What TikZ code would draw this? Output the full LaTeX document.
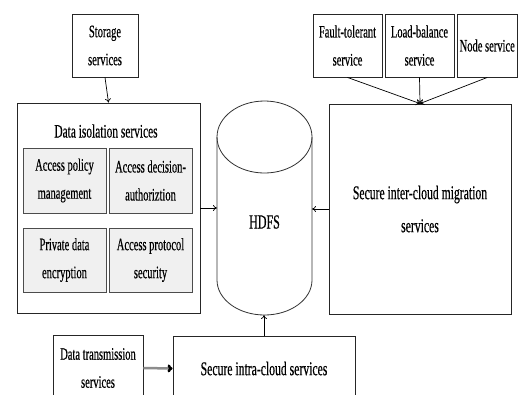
\documentclass[tikz,border=0pt]{standalone}
\usepackage{fontspec}
\setmainfont{Liberation Serif}[FakeStretch=0.6,FakeBold=0.4]
\usetikzlibrary{arrows.meta,shadows}
\begin{document}
\begin{tikzpicture}[x=1pt,y=-1pt,
  box/.style={draw=black!85, line width=0.9pt, fill=white, align=center, inner sep=0pt,
    drop shadow={shadow xshift=0.9pt, shadow yshift=-0.9pt, opacity=1, fill=black!75}},
  subbox/.style={box, draw=black!70, fill=black!6, minimum width=83, minimum height=65},
  txt/.style={font=\fontsize{17.5}{28}\selectfont},
  bigtxt/.style={font=\fontsize{19.5}{33}\selectfont},
  arr/.style={-{To[length=4pt,width=6pt]}, line width=0.7pt},
]
\useasboundingbox (0,0) rectangle (518,394);
\fill[white] (0,0) rectangle (518,394);
\clip (0,0) rectangle (518,394);

% top-left feeder
\node[box, txt, minimum width=66, minimum height=63] (stor) at (105,45.5) {Storage\\services};

% data isolation group
\node[box, minimum width=183, minimum height=210] (iso) at (108.5,208) {};
\node[font=\fontsize{19}{22}\selectfont] (isotitle) at (106,131) {Data isolation services};
\node[subbox, txt] (apm) at (64.5,180.5) {Access policy\\management};
\node[subbox, txt] (ada) at (150.5,180.5) {Access decision-\\authoriztion};
\node[subbox, txt, minimum height=64] (pde) at (64.5,260) {Private data\\encryption};
\node[subbox, txt, minimum height=64] (aps) at (150.5,260) {Access protocol\\security};

% HDFS store
\draw[line width=0.8pt, black!80] (264.5,137) ellipse [x radius=47.5, y radius=36];
\draw[line width=0.8pt, black!80] (217,137) -- (217,280)
  arc[start angle=180, end angle=0, x radius=47.5, y radius=35] -- (312,137);
\node[font=\fontsize{20}{24}\selectfont] (hdfs) at (264.5,222) {HDFS};
\coordinate (cylL) at (217,208);
\coordinate (cylR) at (312,209);
\coordinate (cylB) at (264,315);

% inter-cloud migration group
\node[box, txt, minimum width=69, minimum height=63] (ft) at (347.5,45.5) {Fault-tolerant\\service};
\node[box, txt, minimum width=69, minimum height=63] (lb) at (419.5,45.5) {Load-balance\\service};
\node[box, txt, minimum width=60.5, minimum height=63] (ns) at (487.25,45.5) {Node service};
\node[box, bigtxt, minimum width=182, minimum height=210] (inter) at (420,209) {Secure inter-cloud migration\\services};

% intra-cloud group
\node[box, txt, minimum width=90, minimum height=66] (dt) at (98,368) {Data transmission\\services};
\node[box, bigtxt, minimum width=182, minimum height=65] (intra) at (264,368.5) {Secure intra-cloud services};

% connectors
\draw[arr] (stor.south) -- (iso.north);
\draw[arr] (iso.east) -- (cylL);
\draw[arr] (inter.west) -- (cylR);
\draw[arr] (intra.north) -- (cylB);
\draw[arr] (ft.south) -- (inter.north);
\draw[arr] (lb.south) -- (inter.north);
\draw[arr] (ns.south) -- (inter.north);
\draw[black!45, line width=2.5pt, -{To[length=5pt,width=8pt,black]}] (dt.east) -- (intra.west);
\end{tikzpicture}
\end{document}
